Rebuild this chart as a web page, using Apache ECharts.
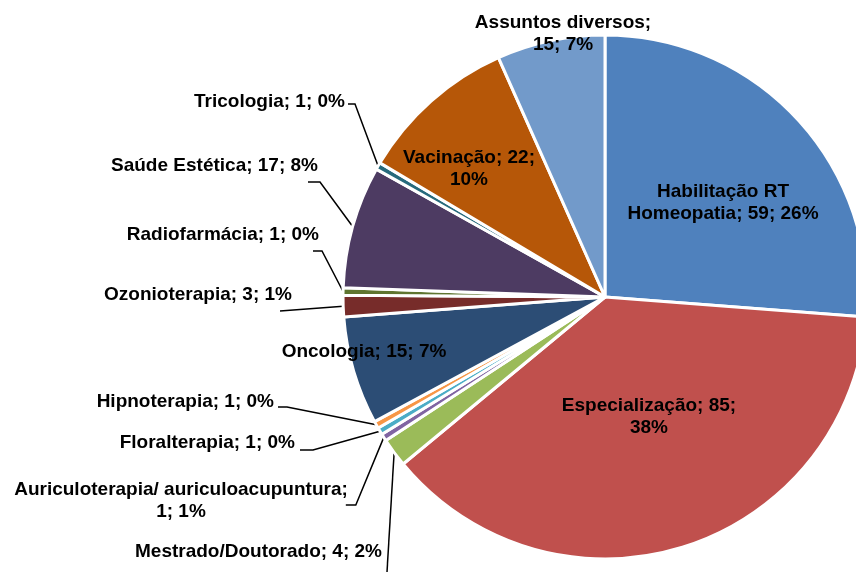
<!DOCTYPE html>
<html><head><meta charset="utf-8">
<script src="https://cdn.jsdelivr.net/npm/echarts@6/dist/echarts.min.js"></script>
<style>html,body{margin:0;padding:0;background:#fff}#c{width:856px;height:572px}</style>
</head><body><div id="c"></div>
<script>
const categories = ['Habilitação RT Homeopatia','Especialização','Mestrado/Doutorado','Auriculoterapia/ auriculoacupuntura','Floralterapia','Hipnoterapia','Oncologia','Ozonioterapia','Radiofarmácia','Saúde Estética','Tricologia','Vacinação','Assuntos diversos'];
const values = [59,85,4,1,1,1,15,3,1,17,1,22,15];
const percentLabels = ['26%','38%','2%','1%','0%','0%','7%','1%','0%','8%','0%','10%','7%'];
const colors = ['#4F81BD','#C0504D','#9BBB59','#8064A2','#4BACC6','#F79646','#2C4D75','#772C2A','#5F7530','#4D3B62','#276A7C','#B65708','#729ACA'];
const lineBreaks = ['Habilitação RT','85;',null,'auriculoacupuntura;',null,null,null,null,null,null,null,'22;','diversos;'];
// label placement: [x, y, align, hasLine, lineDx, lineDy, elbow]
const labelPlacement = [
  [723,203,'center',false],
  [649,417,'center',false],
  [382,552,'right',true,5,20,0],
  [181,501,'center',true,-2,4,10],
  [295,443,'right',true,5,7,13],
  [274,402,'right',true,4,5,9],
  [364,352,'center',false],
  [292,295,'right',true,-12,16,0],
  [319,235,'right',true,-6,16,9],
  [318,166,'right',true,-10,16,12],
  [345,102,'right',true,3,2,7],
  [469,169,'center',false],
  [563,34,'center',false]
];
const FONT = 'bold 19px "Liberation Sans", Arial, sans-serif';
const mctx = document.createElement('canvas').getContext('2d');
mctx.font = FONT;
function labelText(i){
  let t = categories[i] + '; ' + values[i] + '; ' + percentLabels[i];
  if (lineBreaks[i]) t = t.replace(lineBreaks[i] + ' ', lineBreaks[i] + '\n');
  return t;
}
function textWidth(t){ return Math.max.apply(null, t.split('\n').map(s => mctx.measureText(s).width)); }

const data = categories.map((name, i) => ({
  name: name, value: values[i],
  itemStyle: { color: colors[i] },
  labelLine: { show: labelPlacement[i][3] }
}));

const chart = echarts.init(document.getElementById('c'), null, { renderer: 'canvas' });
chart.setOption({
  animation: false,
  series: [{
    type: 'pie',
    center: [605, 297],
    radius: 262,
    startAngle: 90,
    clockwise: true,
    avoidLabelOverlap: false,
    data: data,
    itemStyle: { borderColor: '#fff', borderWidth: 3 },
    emphasis: { disabled: true },
    label: {
      show: true, position: 'outside', color: '#000',
      fontFamily: '"Liberation Sans", Arial, sans-serif', fontWeight: 'bold', fontSize: 19,
      lineHeight: 22, width: 600, overflow: 'none',
      formatter: p => labelText(p.dataIndex)
    },
    labelLine: { show: true, length: 10, length2: 10, lineStyle: { color: '#000', width: 1.5 } },
    labelLayout: function (params) {
      const i = params.dataIndex;
      const pl = labelPlacement[i];
      const res = { x: pl[0], y: pl[1], align: pl[2], verticalAlign: 'middle' };
      if (pl[3] && params.labelLinePoints) {
        const w = textWidth(labelText(i));
        const right = pl[2] === 'right' ? pl[0] : pl[0] + w / 2;
        const end = [right + pl[4], pl[1] + pl[5]];
        const elbow = [end[0] + pl[6], end[1]];
        res.labelLinePoints = [params.labelLinePoints[0], elbow, end];
      }
      return res;
    }
  }]
});
</script>
</body></html>
